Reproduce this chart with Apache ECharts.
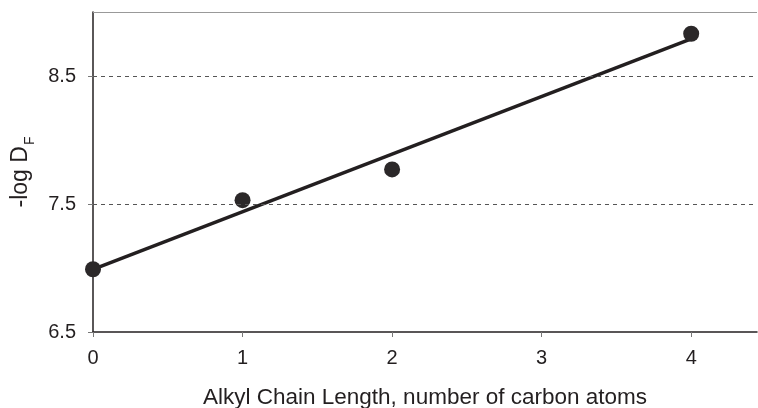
<!DOCTYPE html>
<html>
<head>
<meta charset="utf-8">
<script src="https://cdn.jsdelivr.net/npm/echarts@6/dist/echarts.min.js"></script>
<style>
html,body{margin:0;padding:0;background:#fff;}
#chart{width:758px;height:408px;}
</style>
</head>
<body>
<div id="chart"></div>
<script>
// Data
const chainLength = [0, 1, 2, 4];
const logDF = [6.99, 7.53, 7.77, 8.83];
const fitX = [0, 4];
const fitY = [6.99, 8.79];
const yTickValues = [6.5, 7.5, 8.5];
const xTickValues = [0, 1, 2, 3, 4];
const dashedLevels = [7.5, 8.5];
const topLevel = 9.0;

const points = chainLength.map((x, i) => [x, logDF[i]]);
const fitLine = fitX.map((x, i) => [x, fitY[i]]);

const chart = echarts.init(document.getElementById('chart'), null, {renderer: 'canvas'});
const font = 'Liberation Sans, Arial, sans-serif';

chart.setOption({
  animation: false,
  backgroundColor: '#fff',
  grid: {left: 93, right: 1, top: 12, bottom: 76, containLabel: false, outerBoundsMode: 'none'},
  xAxis: {
    type: 'value',
    min: 0,
    max: 4.44,
    interval: 1,
    name: 'Alkyl Chain Length, number of carbon atoms',
    nameLocation: 'middle',
    nameGap: 54,
    nameTextStyle: {fontFamily: font, fontSize: 22.5, color: '#231f20'},
    axisLine: {show: true, lineStyle: {color: '#231f20', width: 1.5}},
    axisTick: {show: true, inside: false, length: 5, lineStyle: {color: '#777', width: 1}, customValues: xTickValues},
    axisLabel: {fontFamily: font, fontSize: 20, color: '#231f20', margin: 16, customValues: xTickValues},
    splitLine: {show: false}
  },
  yAxis: {
    type: 'value',
    min: 6.5,
    max: 9.0,
    interval: 0.5,
    name: '{a|-log D}{b|F}',
    nameLocation: 'middle',
    nameGap: 54,
    nameTextStyle: {
      fontFamily: font, color: '#231f20',
      rich: {
        a: {fontFamily: font, fontSize: 23, color: '#231f20', lineHeight: 28, verticalAlign: 'top'},
        b: {fontFamily: font, fontSize: 14, color: '#231f20', lineHeight: 28, verticalAlign: 'bottom', padding: [13, 0, 0, 1]}
      }
    },
    axisLine: {show: true, lineStyle: {color: '#231f20', width: 1.5}},
    axisTick: {show: true, inside: false, length: 5, lineStyle: {color: '#777', width: 1}, customValues: yTickValues},
    axisLabel: {fontFamily: font, fontSize: 20, color: '#231f20', margin: 17, customValues: yTickValues},
    splitLine: {show: false}
  },
  series: [
    {
      type: 'line',
      data: fitLine,
      showSymbol: false,
      symbol: 'none',
      lineStyle: {color: '#231f20', width: 3.5},
      z: 2,
      markLine: {
        silent: true,
        symbol: ['none', 'none'],
        label: {show: false},
        data: dashedLevels.map(v => ({yAxis: v, lineStyle: {type: [4, 4], color: '#555', width: 1}}))
          .concat([{yAxis: topLevel, lineStyle: {type: 'solid', color: '#999', width: 1}}])
      }
    },
    {
      type: 'scatter',
      data: points,
      symbol: 'circle',
      symbolSize: 16,
      itemStyle: {color: '#2b2829', opacity: 1},
      z: 3
    }
  ]
});
</script>
</body>
</html>
